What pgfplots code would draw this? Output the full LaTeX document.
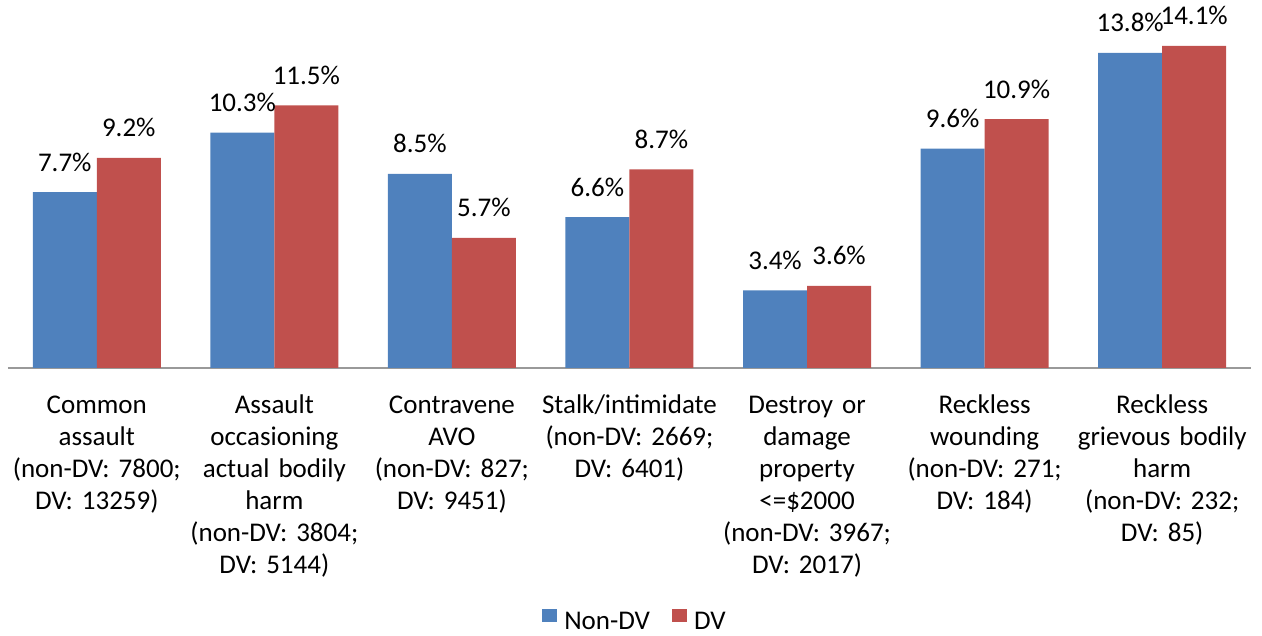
\documentclass[border=0pt]{standalone}
\usepackage{pgfplots}
\pgfplotsset{compat=1.18}
\usepackage{fontspec}
\setmainfont{Carlito}
\definecolor{blueA}{HTML}{4F81BD}
\definecolor{redA}{HTML}{C0504D}
\begin{document}
\frenchspacing
\begin{tikzpicture}[x=1pt,y=1pt]
\path[use as bounding box] (-8,-268) rectangle (1254,368);
\begin{axis}[
  at={(0,0)}, anchor=south west,
  scale only axis, width=1243pt, height=368pt,
  xmin=-0.5, xmax=6.5, ymin=0, ymax=16.11,
  ybar=0pt, bar width=64pt,
  axis x line=bottom, axis y line=none,
  x axis line style={-, draw=black!40, line width=1.3pt},
  xtick={0,...,6},
  xticklabels={
    {\strut Common\\assault\\(non-DV: 7800;\\DV: 13259)},
    {\strut Assault\\occasioning\\actual bodily\\harm\\(non-DV: 3804;\\DV: 5144)},
    {\strut Contravene\\AVO\\(non-DV: 827;\\DV: 9451)},
    {\strut Stalk/intimidate\\(non-DV: 2669;\\DV: 6401)},
    {\strut Destroy or\\damage\\property\\<=\$2000\\(non-DV: 3967;\\DV: 2017)},
    {\strut Reckless\\wounding\\(non-DV: 271;\\DV: 184)},
    {\strut Reckless\\grievous bodily\\harm\\(non-DV: 232;\\DV: 85)}
  },
  major tick length=0pt,
  xticklabel style={text width=180pt, align=center, anchor=north, inner sep=0pt, yshift=-22.6pt, font=\fontsize{27}{32}\selectfont\frenchspacing},
  /pgf/number format/assume math mode=true,
  nodes near coords={\pgfmathprintnumber[fixed,fixed zerofill,precision=1]{\pgfplotspointmeta}\%},
  every node near coord/.append style={font=\fontsize{27}{32}\selectfont, anchor=base, inner sep=0pt, yshift=21pt, text=black},
  clip=false,
  legend columns=2,
  legend style={at={(axis description cs:0.5036,-0.715)}, anchor=south, draw=none, fill=none, inner sep=0pt, outer sep=0pt,
    font=\fontsize{27}{32}\selectfont, nodes={inner sep=0pt},
    /tikz/every odd column/.append style={column sep=7pt},
    /tikz/every even column/.append style={column sep=22pt}},
]
\addplot[fill=blueA, draw=none, legend image code/.code={\fill[blueA] (0pt,0pt) rectangle (15pt,13pt);}]
  coordinates {(0,7.7) (1,10.3) (2,8.5) (3,6.6) (4,3.4) (5,9.6) (6,13.8)};
\addplot[fill=redA, draw=none, legend image code/.code={\fill[redA] (0pt,0pt) rectangle (15pt,13pt);}]
  coordinates {(0,9.2) (1,11.5) (2,5.7) (3,8.7) (4,3.6) (5,10.9) (6,14.1)};
\legend{Non-DV, DV}
\end{axis}
\end{tikzpicture}
\end{document}
